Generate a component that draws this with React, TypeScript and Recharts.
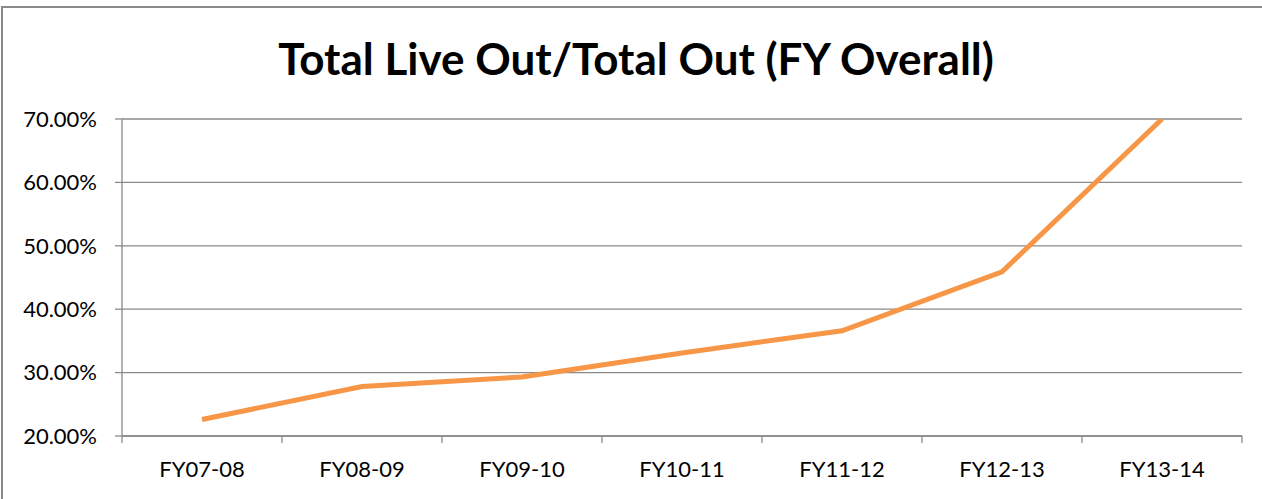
import { LineChart, Line, XAxis, YAxis, CartesianGrid } from 'recharts';

const years = ['FY07-08', 'FY08-09', 'FY09-10', 'FY10-11', 'FY11-12', 'FY12-13', 'FY13-14'];
const liveOutPct = [22.6, 27.8, 29.3, 33.1, 36.6, 45.9, 70.0];
const yTicks = [20, 30, 40, 50, 60, 70];

const data = years.map((fy, i) => ({ fy, pct: liveOutPct[i] }));

const FONT = 'Lato, "Open Sans", sans-serif';
const AXIS_GRAY = '#8a8a8a';
const TICK_SIZE = 7;
const TICK_GAP = 18;

// category label plus the Excel-style tick marks that sit between categories
function CategoryTick(props: any) {
  const { x, y, payload, index } = props;
  const half = payload.offset ?? 0;
  const axisY = y - TICK_SIZE - TICK_GAP;
  const isLast = index === years.length - 1;
  return (
    <g>
      <line x1={x - half} x2={x - half} y1={axisY} y2={axisY + TICK_SIZE} stroke={AXIS_GRAY} strokeWidth={1.3} />
      {isLast && (
        <line x1={x + half} x2={x + half} y1={axisY} y2={axisY + TICK_SIZE} stroke={AXIS_GRAY} strokeWidth={1.3} />
      )}
      <text x={x} y={y} dy="0.71em" textAnchor="middle" fontFamily={FONT} fontSize={22} fill="#000">
        {payload.value}
      </text>
    </g>
  );
}

export default function App() {
  return (
    <div style={{ position: 'absolute', left: 0, top: 0, width: 1262, height: 499, background: '#fff', overflow: 'hidden' }}>
      {/* chart frame, cropped on the right and bottom */}
      <div
        style={{
          position: 'absolute',
          left: 1,
          top: 6,
          width: 1270,
          height: 510,
          borderTop: `2px solid ${AXIS_GRAY}`,
          borderLeft: `2px solid ${AXIS_GRAY}`,
        }}
      />
      <div
        style={{
          position: 'absolute',
          left: 0,
          top: 29,
          width: 1272,
          textAlign: 'center',
          fontFamily: FONT,
          fontWeight: 700,
          fontSize: 44,
          lineHeight: '58px',
          color: '#000',
        }}
      >
        Total Live Out/Total Out (FY Overall)
      </div>
      <div style={{ position: 'absolute', left: 0, top: 0 }}>
        <LineChart width={1262} height={499} data={data} margin={{ top: 119, right: 20, bottom: 0, left: 0 }}>
          <CartesianGrid vertical={false} stroke={AXIS_GRAY} strokeWidth={1.3} />
          <XAxis
            dataKey="fy"
            scale="band"
            height={63}
            stroke={AXIS_GRAY}
            strokeWidth={1.3}
            tickLine={false}
            tickSize={TICK_SIZE}
            tickMargin={TICK_GAP}
            interval={0}
            tick={<CategoryTick />}
          />
          <YAxis
            width={122}
            domain={[20, 70]}
            ticks={yTicks}
            allowDataOverflow
            stroke={AXIS_GRAY}
            strokeWidth={1.3}
            tickSize={TICK_SIZE}
            tickMargin={TICK_GAP}
            tickFormatter={(v: number) => `${v.toFixed(2)}%`}
            tick={{ fontFamily: FONT, fontSize: 22, fill: '#000' }}
          />
          <Line
            type="linear"
            dataKey="pct"
            stroke="#F79646"
            strokeWidth={5}
            dot={false}
            isAnimationActive={false}
          />
        </LineChart>
      </div>
    </div>
  );
}
